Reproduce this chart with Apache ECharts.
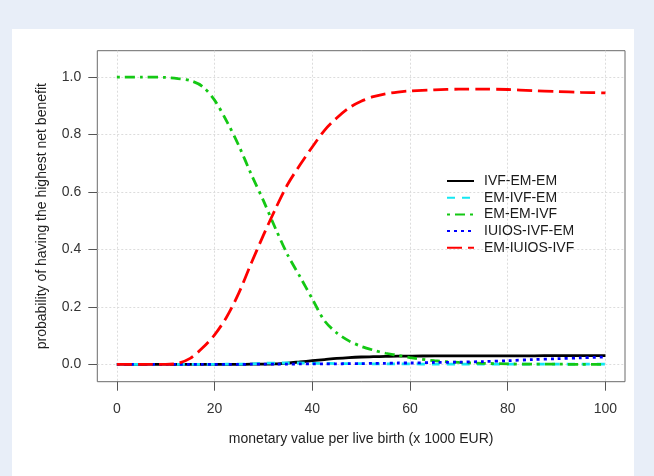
<!DOCTYPE html>
<html>
<head>
<meta charset="utf-8">
<script src="https://cdn.jsdelivr.net/npm/echarts@6/dist/echarts.min.js"></script>
<style>
  html, body { margin: 0; padding: 0; background: #e8eef8; }
  #panel { position: absolute; left: 12px; top: 29px; width: 622px; height: 447px; background: #ffffff; }
  #chart { position: absolute; left: 0; top: 0; width: 654px; height: 476px; }
</style>
</head>
<body>
<div id="panel"></div>
<div id="chart"></div>
<script>
// ---- data ----
const xTicks = [0, 20, 40, 60, 80, 100];
const yTicks = [0, 0.2, 0.4, 0.6, 0.8, 1.0];
const seriesNames = ['IVF-EM-EM', 'EM-IVF-EM', 'EM-EM-IVF', 'IUIOS-IVF-EM', 'EM-IUIOS-IVF'];

const xValues = [0, 5, 10, 12.5, 15, 17.5, 20, 22.5, 25, 27.5, 30, 32.5, 35, 37.5, 40, 42.5, 45, 47.5, 50, 52.5, 55, 57.5, 60, 65, 70, 75, 80, 85, 90, 95, 100];

const ivfEmEm    = [0, 0, 0, 0, 0, 0, 0, 0, 0, 0.001, 0.001, 0.002, 0.005, 0.009, 0.013, 0.017, 0.021, 0.024, 0.026, 0.027, 0.028, 0.029, 0.029, 0.030, 0.030, 0.030, 0.030, 0.030, 0.031, 0.031, 0.031];
const emIvfEm    = [0, 0, 0, 0, 0, 0, 0, 0.001, 0.001, 0.002, 0.004, 0.005, 0.005, 0.005, 0.004, 0.004, 0.003, 0.003, 0.003, 0.002, 0.002, 0.002, 0.002, 0.001, 0.001, 0.001, 0.001, 0.001, 0.001, 0.001, 0.001];
const emEmIvf    = [1.0, 1.0, 0.999, 0.995, 0.988, 0.968, 0.92, 0.846, 0.76, 0.662, 0.57, 0.472, 0.38, 0.305, 0.228, 0.152, 0.11, 0.082, 0.063, 0.05, 0.039, 0.032, 0.024, 0.013, 0.007, 0.004, 0.002, 0.001, 0.001, 0.0, 0.0];
const iuiosIvfEm = [0, 0, 0, 0, 0, 0, 0, 0, 0, 0.001, 0.001, 0.001, 0.001, 0.002, 0.002, 0.002, 0.002, 0.003, 0.003, 0.004, 0.004, 0.005, 0.005, 0.007, 0.008, 0.010, 0.013, 0.017, 0.020, 0.023, 0.026];
const emIuiosIvf = [0, 0, 0, 0.004, 0.021, 0.057, 0.103, 0.166, 0.25, 0.352, 0.45, 0.543, 0.628, 0.695, 0.757, 0.815, 0.858, 0.893, 0.916, 0.932, 0.942, 0.948, 0.952, 0.956, 0.958, 0.958, 0.957, 0.953, 0.950, 0.947, 0.945];

const seriesValues = [ivfEmEm, emIvfEm, emEmIvf, iuiosIvfEm, emIuiosIvf];
const seriesColors = ['#000000', '#14e8f2', '#14c814', '#0000ff', '#ff0000'];
const seriesDash = ['solid', [8, 7], [3, 5, 10, 5], [3, 4], [15, 6]];

const FONT = '"Liberation Sans", Arial, Helvetica, sans-serif';

const chart = echarts.init(document.getElementById('chart'), null, { renderer: 'canvas' });

const series = seriesNames.map((name, i) => ({
  name: name,
  type: 'line',
  data: xValues.map((x, j) => [x, seriesValues[i][j]]),
  smooth: 0.3,
  symbol: 'none',
  clip: false,
  lineStyle: { color: seriesColors[i], width: 2.8, type: seriesDash[i] },
  itemStyle: { color: seriesColors[i] },
  z: 2 + i
}));

chart.setOption({
  animation: false,
  backgroundColor: 'transparent',
  grid: {
    left: 97.3, right: 29, top: 50.7, bottom: 94.3,
    show: true, borderColor: '#6b6b6b', borderWidth: 1, backgroundColor: 'transparent'
  },
  legend: {
    orient: 'vertical',
    left: 441, top: 169,
    itemWidth: 27, itemHeight: 14, itemGap: 2.7,
    data: seriesNames,
    itemStyle: { opacity: 0 },
    textStyle: { fontFamily: FONT, fontSize: 14, color: '#1a1a1a', padding: [0, 0, 0, 5] }
  },
  xAxis: {
    type: 'value', min: -4, max: 104,
    name: 'monetary value per live birth (x 1000 EUR)',
    nameLocation: 'middle', nameGap: 50,
    nameTextStyle: { fontFamily: FONT, fontSize: 14, color: '#222' },
    axisLine: { show: false, onZero: false },
    axisTick: { show: true, length: 9, customValues: xTicks, lineStyle: { color: '#555' } },
    axisLabel: { customValues: xTicks, margin: 20, fontFamily: FONT, fontSize: 14, color: '#333' },
    splitLine: { show: true, lineStyle: { color: '#dcdcdc', type: [2, 2], width: 1 } }
  },
  yAxis: {
    type: 'value', min: -0.06, max: 1.092,
    name: 'probability of having the highest net benefit',
    nameLocation: 'middle', nameGap: 48,
    nameTextStyle: { fontFamily: FONT, fontSize: 14, color: '#222' },
    axisLine: { show: false, onZero: false },
    axisTick: { show: true, length: 9, customValues: yTicks, lineStyle: { color: '#555' } },
    axisLabel: { customValues: yTicks, margin: 16, fontFamily: FONT, fontSize: 14, color: '#333',
      formatter: v => v.toFixed(1) },
    splitLine: { show: true, lineStyle: { color: '#dcdcdc', type: [2, 2], width: 1 } }
  },
  series: series
});
</script>
</body>
</html>
